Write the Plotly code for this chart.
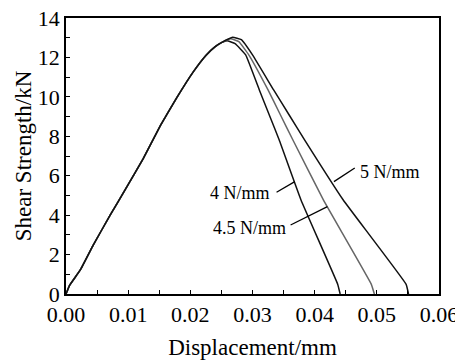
import plotly.graph_objects as go

# Shared elastic rise
rise_x = [0.0, 0.0006, 0.0023, 0.0044, 0.0071, 0.0095, 0.0124, 0.0152, 0.0178, 0.0205, 0.0225, 0.0240, 0.0250]
rise_y = [0.0, 0.45, 1.22, 2.49, 4.0, 5.28, 6.85, 8.55, 9.95, 11.28, 12.1, 12.55, 12.75]

s4_x = [0.0259, 0.0272, 0.0289, 0.0311, 0.0327, 0.0343, 0.0378, 0.0437, 0.0441]
s4_y = [12.85, 12.7, 12.13, 10.35, 9.08, 7.81, 4.77, 0.5, 0.0]

s45_x = [0.0265, 0.0278, 0.0294, 0.0325, 0.0345, 0.0365, 0.0414, 0.0491, 0.0496]
s45_y = [12.95, 12.8, 12.13, 10.35, 9.08, 7.81, 4.77, 0.5, 0.0]

s5_x = [0.0268, 0.0282, 0.0300, 0.0334, 0.0359, 0.0384, 0.0446, 0.0547, 0.0551]
s5_y = [13.02, 12.9, 12.13, 10.35, 9.08, 7.81, 4.77, 0.5, 0.0]

series_names = ["4 N/mm", "4.5 N/mm", "5 N/mm"]
series_colors = ["#111111", "#666666", "#111111"]

# label text anchor (x, y), leader line start/end
label_pos = [(0.03318, 5.11), (0.03565, 3.35), (0.04689, 6.2)]
label_anchor = ["right", "right", "left"]
leader_from = [(0.03387, 5.16), (0.03613, 3.50), (0.04645, 6.39)]
leader_to = [(0.03680, 5.70), (0.04205, 4.43), (0.04310, 5.70)]

x_ticks = [0.00, 0.01, 0.02, 0.03, 0.04, 0.05, 0.06]
x_ticklabels = ["0.00", "0.01", "0.02", "0.03", "0.04", "0.05", "0.06"]
y_ticks = [0, 2, 4, 6, 8, 10, 12, 14]

FONT = "Liberation Serif"

fig = go.Figure()
for name, col, sx, sy in zip(series_names, series_colors, [s4_x, s45_x, s5_x], [s4_y, s45_y, s5_y]):
    fig.add_trace(go.Scatter(x=rise_x + sx, y=rise_y + sy, mode="lines", name=name,
                             line=dict(color=col, width=1.5, shape="spline", smoothing=0.3),
                             showlegend=False))

for (tx, ty), anc, (fx, fy), (ex, ey), name in zip(label_pos, label_anchor, leader_from, leader_to, series_names):
    fig.add_annotation(x=tx, y=ty, text=name, showarrow=False, xanchor=anc, yanchor="middle",
                       font=dict(family=FONT, size=18, color="#000"))
    fig.add_shape(type="line", x0=fx, y0=fy, x1=ex, y1=ey, line=dict(color="#000", width=1.3))

axis_common = dict(showline=True, linecolor="#000", linewidth=1.5, mirror=True, ticks="inside",
                   ticklen=4, tickwidth=1.3, tickcolor="#000", showgrid=False, zeroline=False,
                   ticklabeloverflow="allow",
                   tickfont=dict(family=FONT, size=22, color="#000"))

fig.update_xaxes(range=[0, 0.06], tickvals=x_ticks, ticktext=x_ticklabels,
                 minor=dict(ticks="inside", dtick=0.005, ticklen=4, tickwidth=1.3, tickcolor="#000"),
                 title=dict(text="Displacement/mm", font=dict(family=FONT, size=23, color="#000"), standoff=15),
                 **axis_common)
fig.update_yaxes(range=[0, 14], tickvals=y_ticks,
                 minor=dict(ticks="inside", dtick=1, ticklen=4, tickwidth=1.3, tickcolor="#000"),
                 title=dict(text="Shear Strength/kN", font=dict(family=FONT, size=23, color="#000"), standoff=0),
                 **axis_common)

# the page body adds an 8px offset; size the figure to compensate
fig.update_layout(width=455, height=352, margin=dict(l=58, r=24, t=10, b=66, autoexpand=False),
                  plot_bgcolor="white", paper_bgcolor="white")

fig.write_html("out.html")
